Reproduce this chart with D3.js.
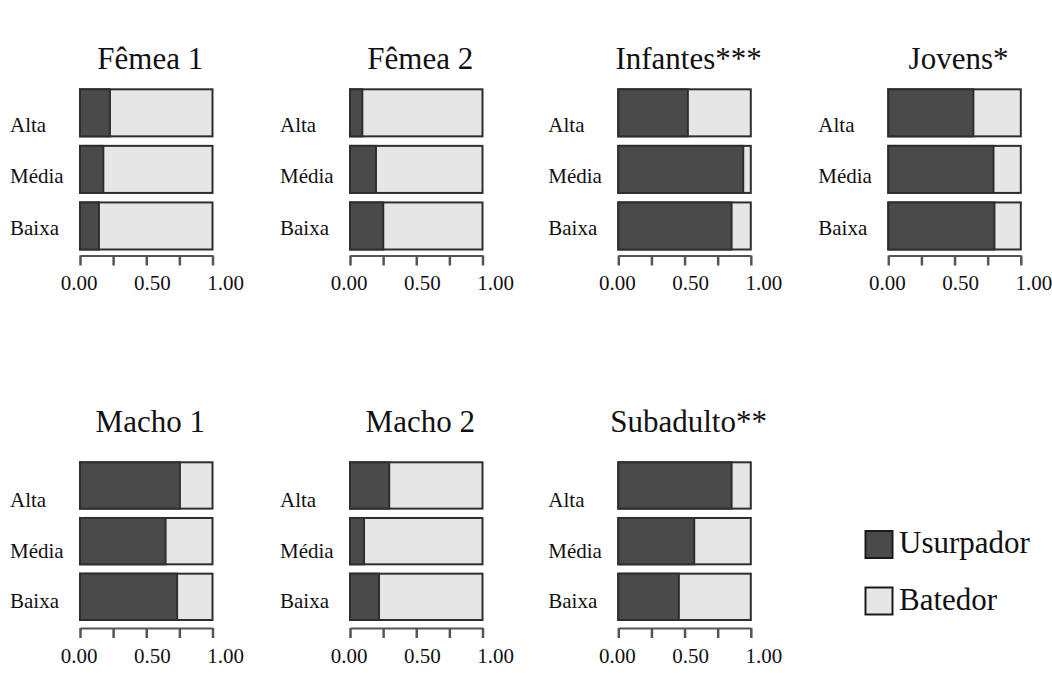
<!DOCTYPE html>
<html>
<head>
<meta charset="utf-8">
<script src="https://cdn.jsdelivr.net/npm/d3@7/dist/d3.min.js"></script>
<style>
  html, body { margin: 0; padding: 0; background: #ffffff; }
  svg { display: block; }
  text { font-family: "Liberation Serif", "Times New Roman", serif; fill: #111; }
</style>
</head>
<body>
<svg id="chart" width="1052" height="673"></svg>
<script>
// Proportion of "Usurpador" events per density class, for each group.
const groups = ["Fêmea 1", "Fêmea 2", "Infantes***", "Jovens*", "Macho 1", "Macho 2", "Subadulto**"];
const categories = ["Alta", "Média", "Baixa"];
const usurpador = [
  [0.226, 0.176, 0.143],  // Fêmea 1
  [0.093, 0.196, 0.251],  // Fêmea 2
  [0.525, 0.943, 0.855],  // Infantes***
  [0.642, 0.794, 0.801],  // Jovens*
  [0.754, 0.646, 0.733],  // Macho 1
  [0.296, 0.106, 0.219],  // Macho 2
  [0.855, 0.573, 0.457]   // Subadulto**
];
const tickValues = [0, 0.25, 0.5, 0.75, 1];
const tickLabels = [0, 0.5, 1];
const legendKeys = ["Usurpador", "Batedor"];

const FONT = "'Liberation Serif', 'Times New Roman', serif";
const svg = d3.select("#chart");
const DARK = "#4a4a4a", LIGHT = "#e6e6e6", EDGE = "#2e2e2e";

// Layout of the 4x2 grid of small panels
const colLeft = [80, 350, 618.3, 888.3];
const barW = 132.5;
const rows = [
  { barTop: 89.3, barBottom: 249.5, lab: [131.7, 234.5], title: 69, axisY: 255.5 },
  { barTop: 462.3, barBottom: 620, lab: [507, 608], title: 431.5, axisY: 628 }
];

groups.forEach((g, i) => {
  const r = rows[Math.floor(i / 4)];
  const left = colLeft[i % 4];
  const panel = svg.append("g");

  const x = d3.scaleLinear().domain([0, 1]).range([left, left + barW]);
  const y = d3.scaleBand().domain(categories).range([r.barTop, r.barBottom]).paddingInner(0.168);
  const yLab = d3.scalePoint().domain(categories).range(r.lab);
  const xLab = d3.scaleLinear().domain([0, 1]).range([left - 1.5, left + 145]);

  // Title
  panel.append("text")
    .attr("x", x(0.5) + 4)
    .attr("y", r.title)
    .attr("text-anchor", "middle")
    .attr("font-family", FONT)
    .style("font-family", FONT)
    .style("font-size", "31px")
    .text(g);

  // Stacked proportion bars
  const rowsData = categories.map((c, j) => ({ c, u: usurpador[i][j] }));
  const bar = panel.selectAll("g.bar").data(rowsData).join("g").attr("class", "bar");
  bar.append("rect")
    .attr("x", x(0)).attr("y", d => y(d.c))
    .attr("width", x(1) - x(0)).attr("height", y.bandwidth())
    .attr("fill", LIGHT).attr("stroke", EDGE).attr("stroke-width", 2);
  bar.append("rect")
    .attr("x", x(0)).attr("y", d => y(d.c))
    .attr("width", d => x(d.u) - x(0)).attr("height", y.bandwidth())
    .attr("fill", DARK).attr("stroke", EDGE).attr("stroke-width", 2);

  // Category labels (left aligned)
  panel.selectAll("text.cat").data(categories).join("text")
    .attr("class", "cat")
    .attr("x", left - 70)
    .attr("y", d => yLab(d))
    .style("font-family", FONT)
    .style("font-size", "21px")
    .text(d => d);

  // Axis line and ticks
  const ax = panel.append("g").attr("transform", `translate(0,${r.axisY})`)
    .call(d3.axisBottom(x).tickValues(tickValues).tickSize(10).tickSizeOuter(0).tickFormat(""));
  ax.select(".domain").attr("stroke", "#555").attr("stroke-width", 2);
  ax.selectAll(".tick line").attr("stroke", "#555").attr("stroke-width", 2.5);

  // Tick labels
  const al = panel.append("g").attr("transform", `translate(0,${r.axisY + 34.5})`)
    .call(d3.axisBottom(xLab).tickValues(tickLabels).tickSize(0).tickPadding(0)
      .tickFormat(d3.format(".2f")));
  al.attr("font-family", FONT);
  al.select(".domain").remove();
  al.selectAll("text")
    .attr("dy", 0)
    .style("font-family", FONT)
    .style("font-size", "21px")
    .attr("fill", "#111");
});

// Legend
const legendColors = d3.scaleOrdinal().domain(legendKeys).range([DARK, LIGHT]);
const legendY = d3.scalePoint().domain(legendKeys).range([531, 587.5]);
const leg = svg.append("g").selectAll("g").data(legendKeys).join("g");
leg.append("rect")
  .attr("x", 865.5).attr("y", d => legendY(d))
  .attr("width", 27).attr("height", 27)
  .attr("fill", d => legendColors(d)).attr("stroke", "#1a1a1a").attr("stroke-width", 2);
leg.append("text")
  .attr("x", 899).attr("y", d => legendY(d) + 22)
  .style("font-family", FONT)
  .style("font-size", "31px")
  .text(d => d);
</script>
</body>
</html>
